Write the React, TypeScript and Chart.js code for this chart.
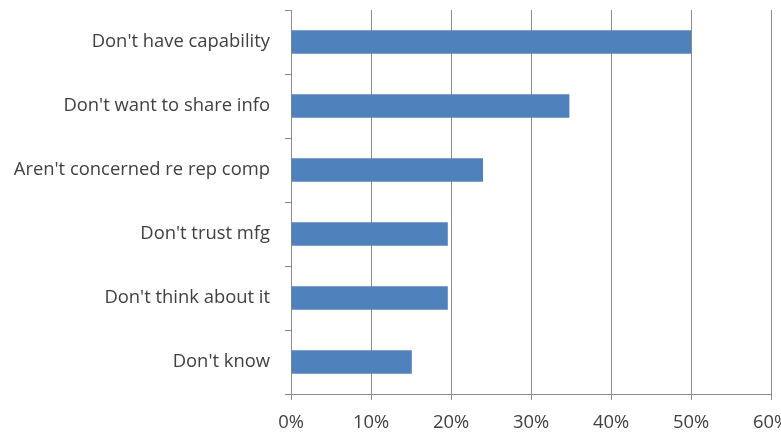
import React, { useEffect, useRef } from "react";
import { Chart, registerables } from "chart.js";

Chart.register(...registerables);

const categories = [
  "Don't have capability",
  "Don't want to share info",
  "Aren't concerned re rep comp",
  "Don't trust mfg",
  "Don't think about it",
  "Don't know",
];
const values = [50, 34.8, 24, 19.6, 19.6, 15.1];
const xTicks = [0, 10, 20, 30, 40, 50, 60];

export default function App() {
  const ref = useRef<HTMLCanvasElement | null>(null);
  useEffect(() => {
    if (!ref.current) return;
    const font = { family: "'Open Sans', sans-serif", size: 18.4 };
    const chart = new Chart(ref.current, {
      type: "bar",
      data: {
        labels: categories,
        datasets: [
          {
            data: values,
            backgroundColor: "#4F81BD",
            borderWidth: 0,
            barPercentage: 0.365,
            categoryPercentage: 1,
          },
        ],
      },
      options: {
        indexAxis: "y",
        animation: false,
        responsive: false,
        maintainAspectRatio: false,
        layout: { padding: { top: 10, right: 10, left: 0, bottom: 0 } },
        plugins: { legend: { display: false }, tooltip: { enabled: false } },
        scales: {
          x: {
            min: 0,
            max: 60,
            afterBuildTicks: (s: any) => {
              s.ticks = xTicks.map((v) => ({ value: v }));
            },
            afterFit: (s: any) => {
              s.height = 38;
              s.paddingLeft = 0;
              s.paddingRight = 0;
            },
            grid: { color: "#8c8c8c", lineWidth: 1, tickLength: 6 },
            border: { color: "#8c8c8c" },
            ticks: {
              color: "#404040",
              font,
              padding: 12,
              maxRotation: 0,
              callback: (v: any) => v + "%",
            },
          },
          y: {
            afterFit: (s: any) => {
              s.width = 291;
              s.paddingTop = 0;
              s.paddingBottom = 0;
            },
            grid: {
              drawOnChartArea: false,
              color: "#8c8c8c",
              tickLength: 6,
              offset: true,
            },
            border: { color: "#8c8c8c" },
            ticks: { color: "#404040", font, padding: 15 },
          },
        },
      },
    } as any);
    return () => chart.destroy();
  }, []);
  return (
    <div style={{ position: "fixed", left: 0, top: 0, width: 781, height: 432, background: "#fff" }}>
      <canvas ref={ref} width={781} height={432} />
    </div>
  );
}
